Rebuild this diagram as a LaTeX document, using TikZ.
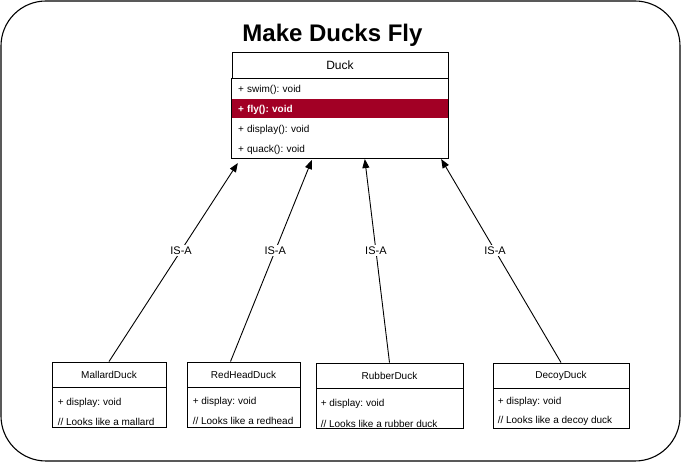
\documentclass[tikz,border=0pt]{standalone}
\usepackage{fontspec}
\setmainfont{Liberation Sans}
\usetikzlibrary{arrows.meta,positioning}
\definecolor{flyred}{HTML}{A20025}
\frenchspacing

\tikzset{
    classhead/.style={draw, line width=0.9pt, inner sep=0pt, font=\fontsize{10}{12}\selectfont},
    classbody/.style={draw, line width=0.9pt, inner sep=0pt},
    member/.style={inner xsep=6pt, inner ysep=0pt, text width=204pt, text height=9pt, text depth=0pt, minimum height=19.5pt, align=left, font=\fontsize{10}{12}\selectfont},
    subline/.style={anchor=west, inner sep=0pt, font=\fontsize{10}{12}\selectfont},
    isa/.style={line width=0.9pt, -{Triangle[length=9pt,width=7pt]}},
    isalabel/.style={fill=white, inner sep=1.5pt, font=\fontsize{11}{13}\selectfont}
}

\begin{document}
\begin{tikzpicture}[x=1pt, y=-1pt]
        \useasboundingbox (0,0) rectangle (681,462);
        \draw[line width=1.1pt, rounded corners=45pt] (1,1) rectangle (680,461);

        \node[anchor=base, font=\fontsize{24}{28}\selectfont\bfseries] (title) at (332.5,42) {Make Ducks Fly};

        \node[classhead, minimum width=216pt, minimum height=26pt, font=\fontsize{12}{14}\selectfont] (duck) at (340,65) {Duck};
        \node[member, below=0pt of duck] (swim) {+ swim(): void};
        \node[member, below=0pt of swim, fill=flyred, text=white, font=\fontsize{10}{12}\selectfont\bfseries] (fly) {+ fly(): void};
        \node[member, below=0pt of fly] (display) {+ display(): void};
        \node[member, below=0pt of display] (quack) {+ quack(): void};
        \draw[line width=0.9pt] (swim.north west) rectangle (quack.south east);

        \node[classhead, minimum width=114pt, minimum height=25pt] (mallard) at (109,374.5) {MallardDuck};
        \node[classbody, minimum width=114pt, minimum height=40pt, below=0pt of mallard] (mallardbody) {};
        \node[subline] (mallarddisplay) at ([xshift=6pt,yshift=-15pt]mallard.south west) {+ display: void};
        \node[subline] (mallardlooks) at ([xshift=6pt,yshift=-34pt]mallard.south west) {// Looks like a mallard};

        \node[classhead, minimum width=113pt, minimum height=25pt] (redhead) at (243.5,374.5) {RedHeadDuck};
        \node[classbody, minimum width=113pt, minimum height=40pt, below=0pt of redhead] (redheadbody) {};
        \node[subline] (redheaddisplay) at ([xshift=6pt,yshift=-14pt]redhead.south west) {+ display: void};
        \node[subline] (redheadlooks) at ([xshift=6pt,yshift=-33pt]redhead.south west) {// Looks like a redhead};

        \node[classhead, minimum width=147pt, minimum height=25pt] (rubber) at (389.5,375.5) {RubberDuck};
        \node[classbody, minimum width=147pt, minimum height=40pt, below=0pt of rubber] (rubberbody) {};
        \node[subline] (rubberdisplay) at ([xshift=5pt,yshift=-15pt]rubber.south west) {+ display: void};
        \node[subline] (rubberlooks) at ([xshift=5pt,yshift=-35pt]rubber.south west) {// Looks like a rubber duck};

        \node[classhead, minimum width=136pt, minimum height=25pt] (decoy) at (561,375.5) {DecoyDuck};
        \node[classbody, minimum width=136pt, minimum height=40pt, below=0pt of decoy] (decoybody) {};
        \node[subline] (decoydisplay) at ([xshift=5pt,yshift=-13pt]decoy.south west) {+ display: void};
        \node[subline] (decoylooks) at ([xshift=5pt,yshift=-32pt]decoy.south west) {// Looks like a decoy duck};

        \draw[isa] (mallard.north) -- node[isalabel, pos=0.56] (isamallard) {IS-A} ([xshift=6pt,yshift=-5pt]quack.south west);
        \draw[isa] ([xshift=-13pt]redhead.north) -- node[isalabel, pos=0.55] (isaredhead) {IS-A} ([xshift=80pt,yshift=-2pt]quack.south west);
        \draw[isa] (rubber.north) -- node[isalabel, pos=0.55] (isarubber) {IS-A} ([xshift=133pt,yshift=-1pt]quack.south west);
        \draw[isa] (decoy.north) -- node[isalabel, pos=0.55] (isadecoy) {IS-A} ([xshift=-7pt,yshift=-1pt]quack.south east);
    \end{tikzpicture}
\end{document}
